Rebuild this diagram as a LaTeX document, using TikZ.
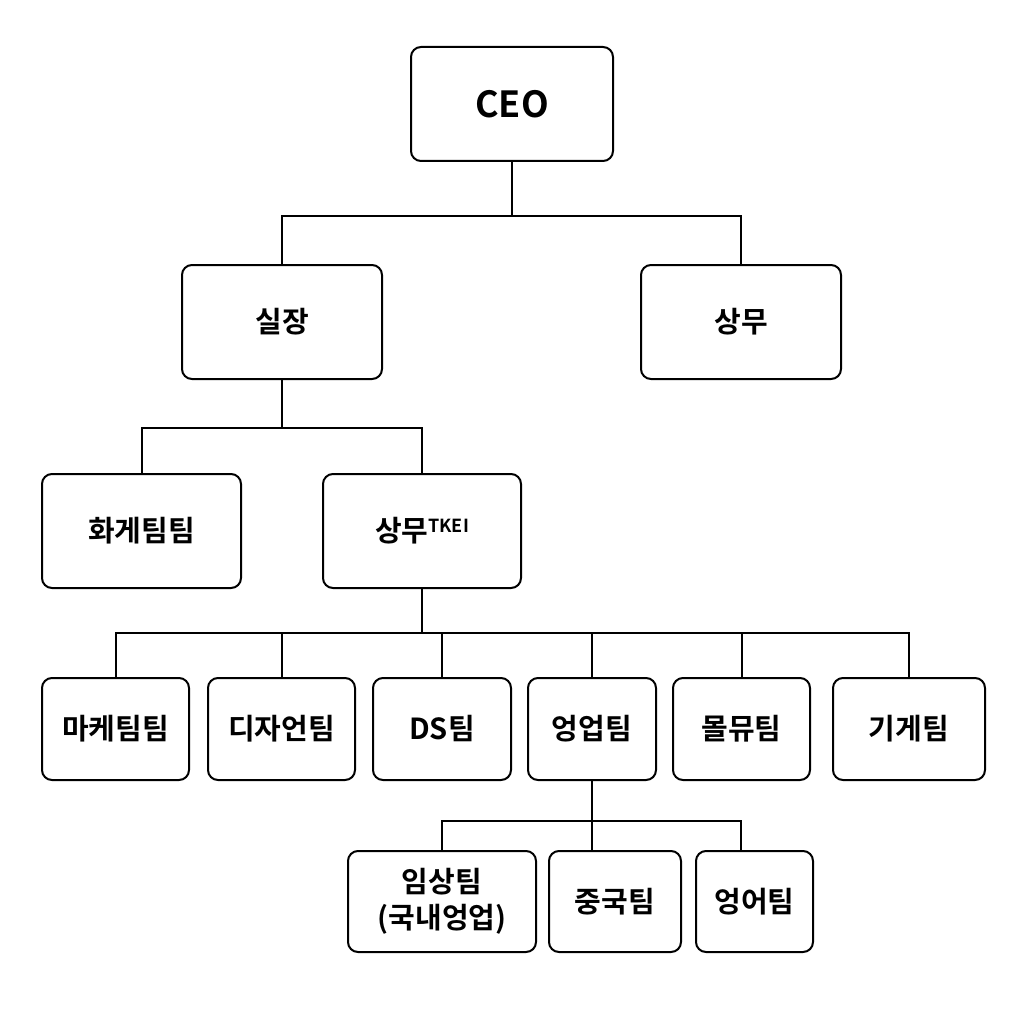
\documentclass[tikz,border=0pt]{standalone}
\usepackage{fontspec}
\setmainfont{Noto Sans CJK KR}[BoldFont={Noto Sans CJK KR Bold}]
\begin{document}
\begin{tikzpicture}[x=1pt,y=-1pt,
  box/.style={draw, line width=2pt, rounded corners=10pt, align=center, font=\bfseries\fontsize{29}{36}\selectfont, inner sep=0pt},
  conn/.style={line width=2pt}]
\useasboundingbox (0,0) rectangle (1024,1024);
% level 0
\node[box, minimum width=202pt, minimum height=114pt, font=\bfseries\fontsize{36}{40}\selectfont] (ceo) at (512,104) {CEO};
% level 1
\node[box, minimum width=200pt, minimum height=114pt] (sj) at (282,322) {실장};
\node[box, minimum width=200pt, minimum height=114pt] (sm) at (741,322) {상무};
% level 2
\node[box, minimum width=199pt, minimum height=114pt] (hg) at (141.5,531) {화게팀팀};
\node[box, minimum width=198pt, minimum height=114pt] (smt) at (422,531) {상무\raisebox{9pt}{\fontsize{18}{20}\selectfont TKEI}};
% level 3
\node[box, minimum width=147pt, minimum height=102pt] (d1) at (115.5,729) {마케팀팀};
\node[box, minimum width=147pt, minimum height=102pt] (d2) at (281.5,729) {디자언팀};
\node[box, minimum width=138pt, minimum height=102pt] (d3) at (442,729) {DS팀};
\node[box, minimum width=128pt, minimum height=102pt] (d4) at (592,729) {엉업팀};
\node[box, minimum width=137pt, minimum height=102pt] (d5) at (741.5,729) {몰뮤팀};
\node[box, minimum width=152pt, minimum height=102pt] (d6) at (909,729) {기게팀};
% level 4
\node[box, minimum width=188pt, minimum height=101pt] (e1) at (442,901.5) {임상팀\\(국내엉업)};
\node[box, minimum width=132pt, minimum height=101pt] (e2) at (615,901.5) {중국팀};
\node[box, minimum width=117pt, minimum height=101pt] (e3) at (754.5,901.5) {엉어팀};
% connectors
\coordinate (j0) at (512,216);
\draw[conn] (ceo.south) -- (j0);
\draw[conn] (sj.north) |- (j0) -| (sm.north);
\coordinate (j1) at (282,428);
\draw[conn] (sj.south) -- (j1);
\draw[conn] (hg.north) |- (j1) -| (smt.north);
\coordinate (j2) at (422,633);
\draw[conn] (smt.south) -- (j2);
\draw[conn] (d1.north) |- (j2) -| (d6.north);
\draw[conn] (d2.north) -- (d2.north |- j2);
\draw[conn] (d3.north) -- (d3.north |- j2);
\draw[conn] (d4.north) -- (d4.north |- j2);
\draw[conn] (d5.north) -- (d5.north |- j2);
\coordinate (j3) at (592,821);
\coordinate (e3t) at (741,851);
\draw[conn] (d4.south) -- (j3);
\draw[conn] (e1.north) |- (j3) -| (e3t);
\draw[conn] (j3) -- (j3 |- e2.north);
\end{tikzpicture}
\end{document}
